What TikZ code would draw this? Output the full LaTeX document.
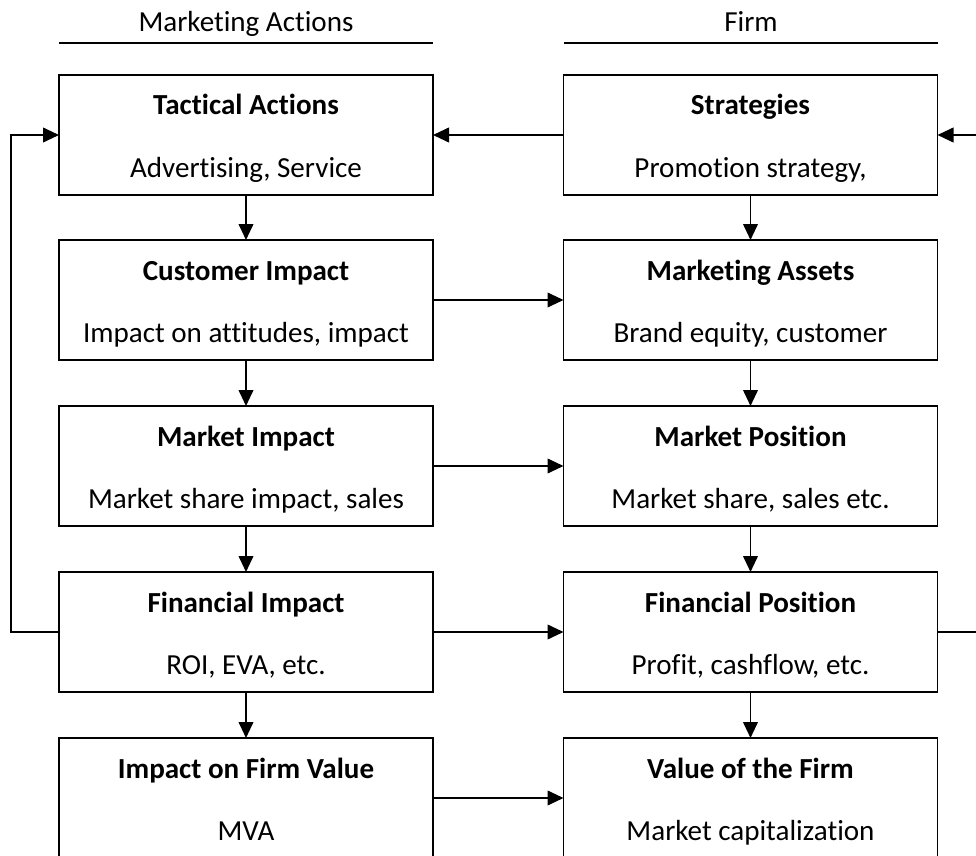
\documentclass[tikz,border=0pt]{standalone}
\usepackage{fontspec}
\setmainfont{Carlito}[Ligatures={NoCommon}]
\usetikzlibrary{arrows.meta}
\begin{document}
\begin{tikzpicture}[x=0.75pt,y=-0.75pt,
  box/.style={draw, line width=1.4pt, minimum width=280.5pt, minimum height=90pt, inner sep=0pt, outer sep=0pt},
  ttl/.style={anchor=base, inner sep=0pt, font=\fontsize{21.8}{26}\selectfont\bfseries},
  sub/.style={anchor=base, inner sep=0pt, font=\fontsize{21.8}{26}\selectfont},
  head/.style={anchor=base, inner sep=0pt, font=\fontsize{21.8}{26}\selectfont},
  arr/.style={line width=1.4pt, -{Triangle[length=12pt,width=11pt]}},
  ln/.style={line width=1.2pt}]
\useasboundingbox (0,0) rectangle (976,856);
\clip (0,0) rectangle (976,856);

% headings
\node[head] (hl) at (246,32) {Marketing Actions};
\node[head] (hr) at (751,32) {Firm};
\draw[ln] (59,43) -- (433,43);
\draw[ln] (564,43) -- (938,43);

% left column
\node[box] (ta) at (246,135) {};
\node[ttl] at (246,115) {Tactical Actions};
\node[sub] at (246,177) {Advertising, Service};

\node[box] (ci) at (246,300) {};
\node[ttl] at (246,280) {Customer Impact};
\node[sub] at (246,342) {Impact on attitudes, impact};

\node[box] (mi) at (246,466) {};
\node[ttl] at (246,446) {Market Impact};
\node[sub] at (246,508) {Market share impact, sales};

\node[box] (fi) at (246,632) {};
\node[ttl] at (246,612) {Financial Impact};
\node[sub] at (246,674) {ROI, EVA, etc.};

\node[box] (iv) at (246,798) {};
\node[ttl] at (246,778) {Impact on Firm Value};
\node[sub] at (246,840) {MVA};

% right column
\node[box] (st) at (750.5,135) {};
\node[ttl] at (750.5,115) {Strategies};
\node[sub] at (750.5,177) {Promotion strategy,};

\node[box] (ma) at (750.5,300) {};
\node[ttl] at (750.5,280) {Marketing Assets};
\node[sub] at (750.5,342) {Brand equity, customer};

\node[box] (mp) at (750.5,466) {};
\node[ttl] at (750.5,446) {Market Position};
\node[sub] at (750.5,508) {Market share, sales etc.};

\node[box] (fp) at (750.5,632) {};
\node[ttl] at (750.5,612) {Financial Position};
\node[sub] at (750.5,674) {Profit, cashflow, etc.};

\node[box] (vf) at (750.5,798) {};
\node[ttl] at (750.5,778) {Value of the Firm};
\node[sub] at (750.5,840) {Market capitalization};

% vertical arrows
\draw[arr] (ta) -- (ci);
\draw[arr] (ci) -- (mi);
\draw[arr] (mi) -- (fi);
\draw[arr] (fi) -- (iv);
\draw[arr] (st) -- (ma);
\draw[arr] (ma) -- (mp);
\draw[arr] (mp) -- (fp);
\draw[arr] (fp) -- (vf);

% horizontal arrows
\draw[arr] (st) -- (ta);
\draw[arr] (ci) -- (ma);
\draw[arr] (mi) -- (mp);
\draw[arr] (fi) -- (fp);
\draw[arr] (iv) -- (vf);

% feedback loops
\draw[arr] (fi.west) -- ++(-48,0) |- (ta.west);
\coordinate (rfree) at (978,632);
\coordinate (rtop) at (978,135);
\draw[ln] (fp.east) -- (rfree);
\draw[arr] (rtop) -- (st.east);
\end{tikzpicture}
\end{document}
